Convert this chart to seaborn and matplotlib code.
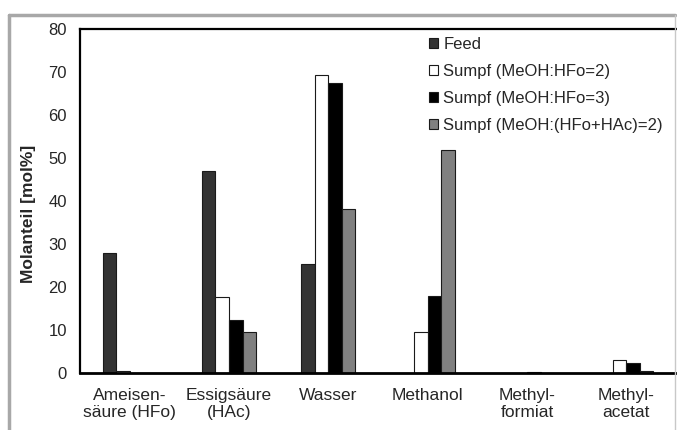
import matplotlib
matplotlib.use("Agg")
import matplotlib.pyplot as plt
import seaborn as sns
import pandas as pd
from matplotlib.lines import Line2D

categories = ["Ameisen-\nsäure (HFo)", "Essigsäure\n(HAc)", "Wasser", "Methanol",
              "Methyl-\nformiat", "Methyl-\nacetat"]
series_names = ["Feed", "Sumpf (MeOH:HFo=2)", "Sumpf (MeOH:HFo=3)",
                "Sumpf (MeOH:(HFo+HAc)=2)"]
feed = [27.8, 47.0, 25.3, 0.0, 0.0, 0.0]
sumpf_hfo2 = [0.5, 17.6, 69.2, 9.5, 0.0, 3.0]
sumpf_hfo3 = [0.0, 12.3, 67.5, 17.8, 0.3, 2.3]
sumpf_mix2 = [0.0, 9.5, 38.2, 51.8, 0.0, 0.4]
yticks = [0, 10, 20, 30, 40, 50, 60, 70, 80]

colors = ["#333333", "#ffffff", "#000000", "#808080"]

rows = []
for name, vals in zip(series_names, [feed, sumpf_hfo2, sumpf_hfo3, sumpf_mix2]):
    for c, v in zip(categories, vals):
        rows.append({"Komponente": c, "Serie": name, "Wert": v})
df = pd.DataFrame(rows)

sns.set_theme(style="white")
plt.rcParams["font.family"] = ["Liberation Sans", "DejaVu Sans"]

W, H = 677, 430
ax_left, ax_right, ax_bottom, ax_top = 80, 676, 373, 29
fig = plt.figure(figsize=(W/100, H/100), dpi=100)
ax = fig.add_axes([ax_left/W, 1-ax_bottom/H, (ax_right-ax_left)/W, (ax_bottom-ax_top)/H])

sns.barplot(data=df, x="Komponente", y="Wert", hue="Serie", order=categories,
            hue_order=series_names, palette=colors, width=0.545, gap=0,
            edgecolor="#1a1a1a", linewidth=0.8, saturation=1, ax=ax, errorbar=None)

ax.set_xlim(-0.5, 5.5)
ax.set_ylim(0, 80)
ax.set_yticks(yticks)
ax.set_xlabel("")
ax.set_ylabel("Molanteil [mol%]", fontsize=12.5, fontweight="bold")
ax.yaxis.set_label_coords((36-ax_left)/(ax_right-ax_left),
                          (ax_bottom-214)/(ax_bottom-ax_top))
ax.tick_params(axis="y", labelsize=12, length=0, pad=9.5)
ax.tick_params(axis="x", labelsize=12.5, length=0, pad=10.5)

ax.spines["right"].set_visible(False)
for s in ["left", "top", "bottom"]:
    ax.spines[s].set_color("black")
    ax.spines[s].set_linewidth(1.6)
ax.spines["bottom"].set_linewidth(2)

leg = ax.legend(loc="upper left",
                bbox_to_anchor=((429-ax_left)/(ax_right-ax_left), (ax_bottom-37)/(ax_bottom-ax_top)),
                frameon=False, borderpad=0, borderaxespad=0, fontsize=12,
                handlelength=0.55, handleheight=0.55, handletextpad=0.3,
                labelspacing=0.72)

# grey outer frame
fc = "#a8a8a8"
fig.add_artist(Line2D([9/W, 675/W], [1-15/H, 1-15/H], color=fc, lw=2.5,
                      transform=fig.transFigure))
fig.add_artist(Line2D([9/W, 9/W], [0, 1-15/H], color=fc, lw=2.5,
                      transform=fig.transFigure))
fig.add_artist(Line2D([675/W, 675/W], [0, 1-15/H], color="#c8c8c8", lw=1,
                      transform=fig.transFigure))

fig.savefig("out.png", dpi=100)
